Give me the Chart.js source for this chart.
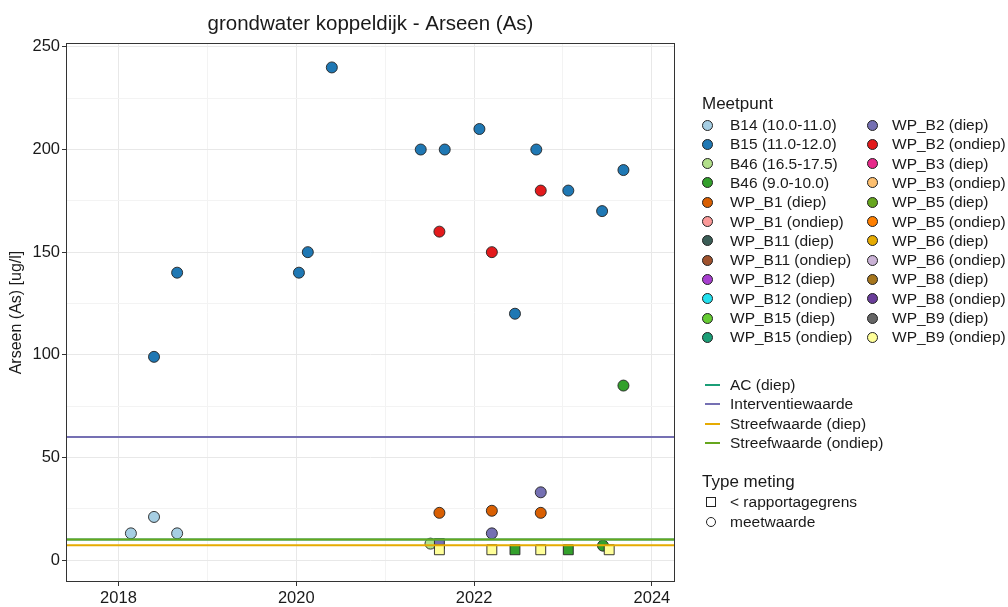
<!DOCTYPE html>
<html>
<head>
<meta charset="utf-8">
<script src="https://cdn.jsdelivr.net/npm/chart.js@4.4.1/dist/chart.umd.min.js"></script>
<style>
  body { margin: 0; background: #fff; font-family: "Liberation Sans", Arial, sans-serif; }
  #wrap { position: relative; width: 1008px; height: 607px; }
  #legend { position: absolute; left: 0; top: 0; width: 1008px; height: 607px; pointer-events: none; color: #1a1a1a; }
  .ttl { position: absolute; font-size: 17px; line-height: 20px; }
  .item { position: absolute; font-size: 15.5px; line-height: 18px; white-space: nowrap; }
  .dot { position: absolute; width: 9px; height: 9px; border-radius: 50%; border: 1px solid #222; }
  .seg { position: absolute; width: 15px; height: 2px; }
  .sq { position: absolute; width: 8px; height: 8px; border: 1px solid #222; }
  .ring { position: absolute; width: 8px; height: 8px; border-radius: 50%; border: 1px solid #222; }
</style>
</head>
<body>
<div id="wrap">
  <canvas id="chart" width="1008" height="607"></canvas>
  <div id="legend"></div>
</div>
<script>
// Meetpunt legend (two columns)
const meetpuntNames = [
  "B14 (10.0-11.0)", "B15 (11.0-12.0)", "B46 (16.5-17.5)", "B46 (9.0-10.0)",
  "WP_B1 (diep)", "WP_B1 (ondiep)", "WP_B11 (diep)", "WP_B11 (ondiep)",
  "WP_B12 (diep)", "WP_B12 (ondiep)", "WP_B15 (diep)", "WP_B15 (ondiep)",
  "WP_B2 (diep)", "WP_B2 (ondiep)", "WP_B3 (diep)", "WP_B3 (ondiep)",
  "WP_B5 (diep)", "WP_B5 (ondiep)", "WP_B6 (diep)", "WP_B6 (ondiep)",
  "WP_B8 (diep)", "WP_B8 (ondiep)", "WP_B9 (diep)", "WP_B9 (ondiep)"
];
const meetpuntColors = [
  "#a6cee3", "#1f78b4", "#b2df8a", "#33a02c",
  "#d95f02", "#fb9a99", "#3b5e57", "#a0522d",
  "#a83fd0", "#22e0ee", "#66cc33", "#1b9e77",
  "#7570b3", "#e31a1c", "#e7298a", "#fdbf6f",
  "#66a61e", "#ff7f00", "#e6ab02", "#cab2d6",
  "#a6761d", "#6a3d9a", "#666666", "#ffff99"
];

// measurements per meetpunt: decimal year, value [ug/l], type ("m" = meetwaarde, "r" = < rapportagegrens)
const b14Dates = [2018.14, 2018.40, 2018.66];
const b14Values = [13, 21, 13];
const b14Types = ["m", "m", "m"];

const b15Dates = [2018.40, 2018.66, 2020.03, 2020.13, 2020.40, 2021.40, 2021.67, 2022.06, 2022.46, 2022.70, 2023.06, 2023.44, 2023.68];
const b15Values = [99, 140, 140, 150, 240, 200, 200, 210, 120, 200, 180, 170, 190];
const b15Types = ["m", "m", "m", "m", "m", "m", "m", "m", "m", "m", "m", "m", "m"];

const b46aDates = [2021.51];
const b46aValues = [8];
const b46aTypes = ["m"];

const b46bDates = [2022.46, 2023.06, 2023.45, 2023.68];
const b46bValues = [5, 5, 7, 85];
const b46bTypes = ["r", "r", "m", "m"];

const wpB1DiepDates = [2021.61, 2022.20, 2022.75];
const wpB1DiepValues = [23, 24, 23];
const wpB1DiepTypes = ["m", "m", "m"];

const wpB2DiepDates = [2021.61, 2022.20, 2022.75];
const wpB2DiepValues = [8, 13, 33];
const wpB2DiepTypes = ["r", "m", "m"];

const wpB2OndiepDates = [2021.61, 2022.20, 2022.75];
const wpB2OndiepValues = [160, 150, 180];
const wpB2OndiepTypes = ["m", "m", "m"];

const wpB9OndiepDates = [2021.61, 2022.20, 2022.75, 2023.52];
const wpB9OndiepValues = [5, 5, 5, 5];
const wpB9OndiepTypes = ["r", "r", "r", "r"];

// reference lines
const lineNames = ["AC (diep)", "Interventiewaarde", "Streefwaarde (diep)", "Streefwaarde (ondiep)"];
const lineValues = [10, 60, 7.2, 10];
const lineColors = ["#1b9e77", "#7570b3", "#e6ab02", "#66a61e"];

const typeNames = ["< rapportagegrens", "meetwaarde"];

// axes
const xMin = 2017.41, xMax = 2024.26;
const yMin = -10.7, yMax = 251.9;
const yearTicks = [2018, 2019, 2020, 2021, 2022, 2023, 2024];
const valueTicks = [0, 25, 50, 75, 100, 125, 150, 175, 200, 225, 250];

const series = [
  { name: "B14 (10.0-11.0)", dates: b14Dates, values: b14Values, types: b14Types },
  { name: "B15 (11.0-12.0)", dates: b15Dates, values: b15Values, types: b15Types },
  { name: "B46 (16.5-17.5)", dates: b46aDates, values: b46aValues, types: b46aTypes },
  { name: "B46 (9.0-10.0)", dates: b46bDates, values: b46bValues, types: b46bTypes },
  { name: "WP_B1 (diep)", dates: wpB1DiepDates, values: wpB1DiepValues, types: wpB1DiepTypes },
  { name: "WP_B2 (diep)", dates: wpB2DiepDates, values: wpB2DiepValues, types: wpB2DiepTypes },
  { name: "WP_B2 (ondiep)", dates: wpB2OndiepDates, values: wpB2OndiepValues, types: wpB2OndiepTypes },
  { name: "WP_B9 (ondiep)", dates: wpB9OndiepDates, values: wpB9OndiepValues, types: wpB9OndiepTypes }
];

const datasets = [];

series.forEach(s => {
  const idx = meetpuntNames.indexOf(s.name);
  datasets.push({
    type: "scatter",
    label: s.name,
    data: s.dates.map((d, i) => ({ x: d, y: s.values[i] })),
    backgroundColor: meetpuntColors[idx],
    borderColor: "#222",
    borderWidth: 0.9,
    pointStyle: ctx => s.types[ctx.dataIndex] === "r" ? "rect" : "circle",
    pointRadius: ctx => s.types[ctx.dataIndex] === "r" ? 7 : 5.5,
    pointHoverRadius: ctx => s.types[ctx.dataIndex] === "r" ? 7 : 5.5,
    order: 100 - idx
  });
});

lineNames.forEach((n, i) => {
  datasets.push({
    type: "line",
    label: n,
    data: [{ x: xMin, y: lineValues[i] }, { x: xMax, y: lineValues[i] }],
    borderColor: lineColors[i],
    borderWidth: 2,
    pointRadius: 0,
    order: i === 0 ? 5 : 0
  });
});

// plot border like ggplot theme_bw
const panelBorder = {
  id: "panelBorder",
  afterDraw(chart) {
    const { ctx, chartArea: a } = chart;
    ctx.save();
    ctx.strokeStyle = "#333";
    ctx.lineWidth = 1;
    ctx.strokeRect(a.left + 0.5, a.top + 0.5, a.right - a.left - 1, a.bottom - a.top - 1);
    ctx.restore();
  }
};

const font = { family: "'Liberation Sans', Arial, sans-serif", size: 16.5 };

const chart = new Chart(document.getElementById("chart"), {
  data: { datasets: datasets },
  options: {
    responsive: false,
    animation: false,
    devicePixelRatio: 1,
    layout: { padding: { left: 0, right: 333, top: 0, bottom: 0 } },
    plugins: {
      legend: { display: false },
      tooltip: { enabled: false },
      title: {
        display: true,
        text: "grondwater koppeldijk - Arseen (As)",
        fullSize: false,
        color: "#1a1a1a",
        font: { family: font.family, size: 20.5, weight: "normal" },
        padding: { top: 12, bottom: 6.4 }
      }
    },
    scales: {
      x: {
        type: "linear",
        min: xMin,
        max: xMax,
        afterBuildTicks: scale => { scale.ticks = yearTicks.map(v => ({ value: v })); },
        afterFit: scale => { scale.height = 25; },
        ticks: {
          color: "#1a1a1a",
          font: font,
          padding: 3,
          maxRotation: 0,
          autoSkip: false,
          callback: v => (v % 2 === 0 ? String(v) : "")
        },
        grid: {
          color: ctx => (ctx.tick && ctx.tick.value % 2 === 0 ? "#e8e8e8" : "#f3f3f3"),
          tickColor: ctx => (ctx.tick && ctx.tick.value % 2 === 0 ? "#333" : "rgba(0,0,0,0)"),
          tickLength: 4,
          lineWidth: 1
        },
        border: { display: false }
      },
      y: {
        type: "linear",
        min: yMin,
        max: yMax,
        afterBuildTicks: scale => { scale.ticks = valueTicks.map(v => ({ value: v })); },
        afterFit: scale => { scale.width = 66; },
        ticks: {
          color: "#1a1a1a",
          font: font,
          padding: 2,
          autoSkip: false,
          callback: v => (v % 50 === 0 ? String(v) : "")
        },
        grid: {
          color: ctx => (ctx.tick && ctx.tick.value % 50 === 0 ? "#e8e8e8" : "#f3f3f3"),
          tickColor: ctx => (ctx.tick && ctx.tick.value % 50 === 0 ? "#333" : "rgba(0,0,0,0)"),
          tickLength: 4,
          lineWidth: 1
        },
        border: { display: false },
        title: {
          display: true,
          text: "Arseen (As) [ug/l]",
          color: "#1a1a1a",
          font: { family: font.family, size: 16 },
          padding: { top: 7, bottom: 0 }
        }
      }
    }
  },
  plugins: [panelBorder]
});

// HTML legend
const legend = document.getElementById("legend");
let html = '<div class="ttl" style="left:702px;top:94px">Meetpunt</div>';
const rowH = 19.3;
meetpuntNames.forEach((n, i) => {
  const col = i < 12 ? 0 : 1;
  const row = i % 12;
  const cy = 125 + row * rowH;
  const dx = col === 0 ? 707 : 872;
  const tx = col === 0 ? 730 : 892;
  html += `<div class="dot" style="left:${dx - 5.5}px;top:${cy - 5.5}px;background:${meetpuntColors[i]}"></div>`;
  html += `<div class="item" style="left:${tx}px;top:${cy - 9}px">${n}</div>`;
});
lineNames.forEach((n, i) => {
  const cy = 385 + i * rowH;
  html += `<div class="seg" style="left:705px;top:${cy - 1}px;background:${lineColors[i]}"></div>`;
  html += `<div class="item" style="left:730px;top:${cy - 9}px">${n}</div>`;
});
html += '<div class="ttl" style="left:702px;top:472px">Type meting</div>';
typeNames.forEach((n, i) => {
  const cy = 502 + i * 20;
  const cls = i === 0 ? "sq" : "ring";
  html += `<div class="${cls}" style="left:${711 - 5}px;top:${cy - 5}px"></div>`;
  html += `<div class="item" style="left:730px;top:${cy - 9}px">${n}</div>`;
});
legend.innerHTML = html;
</script>
</body>
</html>
